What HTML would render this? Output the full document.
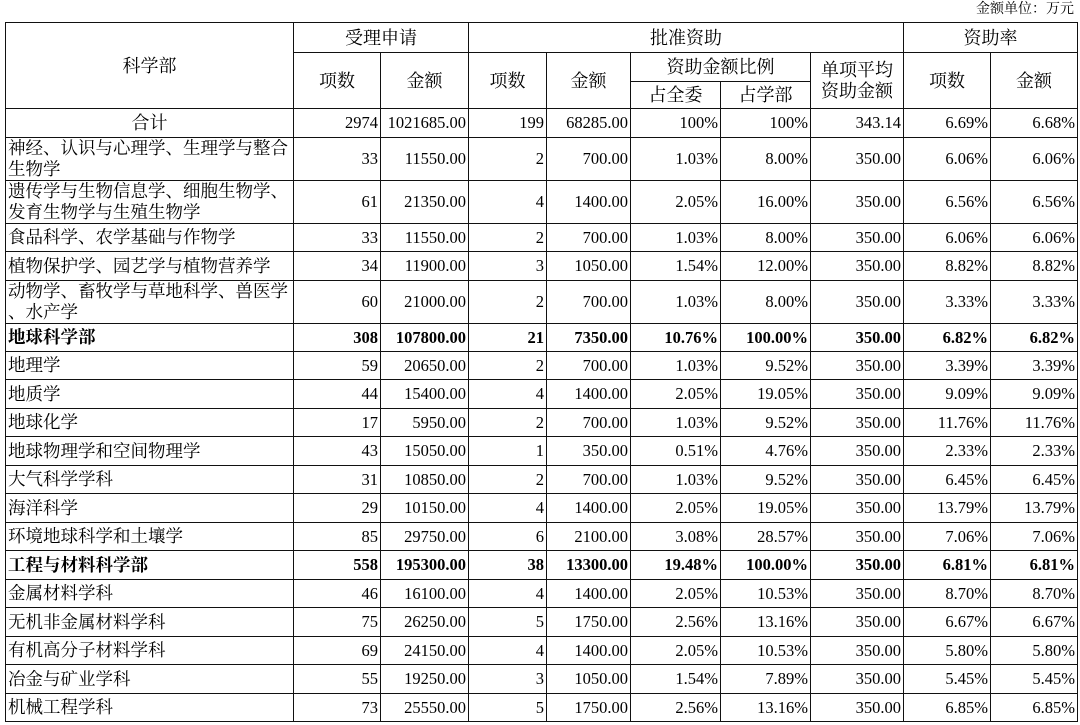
<!DOCTYPE html>
<html><head><meta charset="utf-8"><style>
body{margin:0;background:#fff;width:1080px;height:725px;overflow:hidden;position:relative;font-family:"Liberation Serif","Noto Serif CJK SC",serif;color:#000}
.unit{position:absolute;right:6px;top:2px;font-size:14px;line-height:16px}
table{position:absolute;left:5px;top:22px;width:1072px;border-collapse:collapse;table-layout:fixed;font-size:16.5px}
td{border:1.5px solid #111;padding:0 2px;white-space:nowrap;overflow:hidden;line-height:18px}
td.n{text-align:right}
td.c{text-align:center;font-size:18px}
td.l{text-align:left;line-height:21px;font-size:17.5px;padding:0 0 0 2px;overflow:visible}
tr.b td{font-weight:bold}
</style></head><body>
<div class="unit">金额单位：万元</div>
<table>
<colgroup><col style="width:288px"><col style="width:87px"><col style="width:88px"><col style="width:78px"><col style="width:84px"><col style="width:90px"><col style="width:90px"><col style="width:93px"><col style="width:87px"><col style="width:87px"></colgroup>
<tr style="height:30px"><td class="c" rowspan="3">科学部</td><td class="c" colspan="2">受理申请</td><td class="c" colspan="5">批准资助</td><td class="c" colspan="2">资助率</td></tr>
<tr style="height:29px"><td class="c" rowspan="2">项数</td><td class="c" rowspan="2">金额</td><td class="c" rowspan="2">项数</td><td class="c" rowspan="2">金额</td><td class="c" colspan="2">资助金额比例</td><td class="c" rowspan="2" style="line-height:21px">单项平均<br>资助金额</td><td class="c" rowspan="2">项数</td><td class="c" rowspan="2">金额</td></tr>
<tr style="height:27px"><td class="c">占全委</td><td class="c">占学部</td></tr>
<tr style="height:29px"><td class="c">合计</td><td class="n">2974</td><td class="n">1021685.00</td><td class="n">199</td><td class="n">68285.00</td><td class="n">100%</td><td class="n">100%</td><td class="n">343.14</td><td class="n">6.69%</td><td class="n">6.68%</td></tr>
<tr style="height:43px"><td class="l">神经、认识与心理学、生理学与整合<br>生物学</td><td class="n">33</td><td class="n">11550.00</td><td class="n">2</td><td class="n">700.00</td><td class="n">1.03%</td><td class="n">8.00%</td><td class="n">350.00</td><td class="n">6.06%</td><td class="n">6.06%</td></tr>
<tr style="height:42px"><td class="l">遗传学与生物信息学、细胞生物学、<br>发育生物学与生殖生物学</td><td class="n">61</td><td class="n">21350.00</td><td class="n">4</td><td class="n">1400.00</td><td class="n">2.05%</td><td class="n">16.00%</td><td class="n">350.00</td><td class="n">6.56%</td><td class="n">6.56%</td></tr>
<tr style="height:28px"><td class="l">食品科学、农学基础与作物学</td><td class="n">33</td><td class="n">11550.00</td><td class="n">2</td><td class="n">700.00</td><td class="n">1.03%</td><td class="n">8.00%</td><td class="n">350.00</td><td class="n">6.06%</td><td class="n">6.06%</td></tr>
<tr style="height:29px"><td class="l">植物保护学、园艺学与植物营养学</td><td class="n">34</td><td class="n">11900.00</td><td class="n">3</td><td class="n">1050.00</td><td class="n">1.54%</td><td class="n">12.00%</td><td class="n">350.00</td><td class="n">8.82%</td><td class="n">8.82%</td></tr>
<tr style="height:43px"><td class="l">动物学、畜牧学与草地科学、兽医学<br>、水产学</td><td class="n">60</td><td class="n">21000.00</td><td class="n">2</td><td class="n">700.00</td><td class="n">1.03%</td><td class="n">8.00%</td><td class="n">350.00</td><td class="n">3.33%</td><td class="n">3.33%</td></tr>
<tr class="b" style="height:28px"><td class="l">地球科学部</td><td class="n">308</td><td class="n">107800.00</td><td class="n">21</td><td class="n">7350.00</td><td class="n">10.76%</td><td class="n">100.00%</td><td class="n">350.00</td><td class="n">6.82%</td><td class="n">6.82%</td></tr>
<tr style="height:28px"><td class="l">地理学</td><td class="n">59</td><td class="n">20650.00</td><td class="n">2</td><td class="n">700.00</td><td class="n">1.03%</td><td class="n">9.52%</td><td class="n">350.00</td><td class="n">3.39%</td><td class="n">3.39%</td></tr>
<tr style="height:29px"><td class="l">地质学</td><td class="n">44</td><td class="n">15400.00</td><td class="n">4</td><td class="n">1400.00</td><td class="n">2.05%</td><td class="n">19.05%</td><td class="n">350.00</td><td class="n">9.09%</td><td class="n">9.09%</td></tr>
<tr style="height:28px"><td class="l">地球化学</td><td class="n">17</td><td class="n">5950.00</td><td class="n">2</td><td class="n">700.00</td><td class="n">1.03%</td><td class="n">9.52%</td><td class="n">350.00</td><td class="n">11.76%</td><td class="n">11.76%</td></tr>
<tr style="height:29px"><td class="l">地球物理学和空间物理学</td><td class="n">43</td><td class="n">15050.00</td><td class="n">1</td><td class="n">350.00</td><td class="n">0.51%</td><td class="n">4.76%</td><td class="n">350.00</td><td class="n">2.33%</td><td class="n">2.33%</td></tr>
<tr style="height:28px"><td class="l">大气科学学科</td><td class="n">31</td><td class="n">10850.00</td><td class="n">2</td><td class="n">700.00</td><td class="n">1.03%</td><td class="n">9.52%</td><td class="n">350.00</td><td class="n">6.45%</td><td class="n">6.45%</td></tr>
<tr style="height:29px"><td class="l">海洋科学</td><td class="n">29</td><td class="n">10150.00</td><td class="n">4</td><td class="n">1400.00</td><td class="n">2.05%</td><td class="n">19.05%</td><td class="n">350.00</td><td class="n">13.79%</td><td class="n">13.79%</td></tr>
<tr style="height:28px"><td class="l">环境地球科学和土壤学</td><td class="n">85</td><td class="n">29750.00</td><td class="n">6</td><td class="n">2100.00</td><td class="n">3.08%</td><td class="n">28.57%</td><td class="n">350.00</td><td class="n">7.06%</td><td class="n">7.06%</td></tr>
<tr class="b" style="height:29px"><td class="l">工程与材料科学部</td><td class="n">558</td><td class="n">195300.00</td><td class="n">38</td><td class="n">13300.00</td><td class="n">19.48%</td><td class="n">100.00%</td><td class="n">350.00</td><td class="n">6.81%</td><td class="n">6.81%</td></tr>
<tr style="height:28px"><td class="l">金属材料学科</td><td class="n">46</td><td class="n">16100.00</td><td class="n">4</td><td class="n">1400.00</td><td class="n">2.05%</td><td class="n">10.53%</td><td class="n">350.00</td><td class="n">8.70%</td><td class="n">8.70%</td></tr>
<tr style="height:29px"><td class="l">无机非金属材料学科</td><td class="n">75</td><td class="n">26250.00</td><td class="n">5</td><td class="n">1750.00</td><td class="n">2.56%</td><td class="n">13.16%</td><td class="n">350.00</td><td class="n">6.67%</td><td class="n">6.67%</td></tr>
<tr style="height:28px"><td class="l">有机高分子材料学科</td><td class="n">69</td><td class="n">24150.00</td><td class="n">4</td><td class="n">1400.00</td><td class="n">2.05%</td><td class="n">10.53%</td><td class="n">350.00</td><td class="n">5.80%</td><td class="n">5.80%</td></tr>
<tr style="height:29px"><td class="l">冶金与矿业学科</td><td class="n">55</td><td class="n">19250.00</td><td class="n">3</td><td class="n">1050.00</td><td class="n">1.54%</td><td class="n">7.89%</td><td class="n">350.00</td><td class="n">5.45%</td><td class="n">5.45%</td></tr>
<tr style="height:28px"><td class="l">机械工程学科</td><td class="n">73</td><td class="n">25550.00</td><td class="n">5</td><td class="n">1750.00</td><td class="n">2.56%</td><td class="n">13.16%</td><td class="n">350.00</td><td class="n">6.85%</td><td class="n">6.85%</td></tr>
</table>
</body></html>
